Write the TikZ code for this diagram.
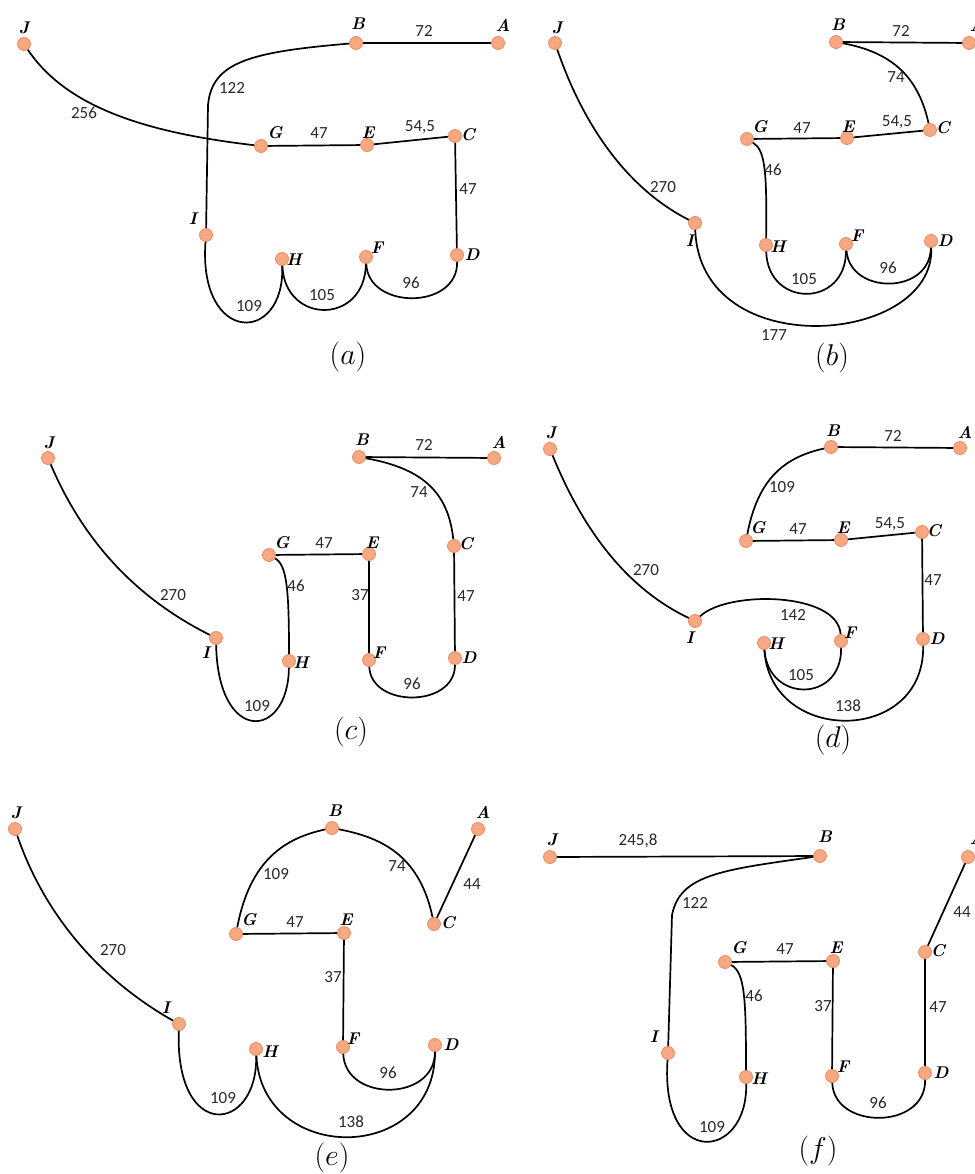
\RequirePackage{fix-cm}
\documentclass[tikz,border=0pt]{standalone}
\usepackage{fontspec}
\newfontfamily\numfont{Carlito}
\definecolor{nfill}{RGB}{245,168,130}
\definecolor{ndraw}{RGB}{238,140,95}
\definecolor{numc}{RGB}{40,40,40}
\begin{document}
\begin{tikzpicture}[x=1pt,y=-1pt,
  pt/.style={circle,fill=nfill,draw=ndraw,line width=0.8pt,minimum size=13pt,inner sep=0pt},
  lab/.style={font=\fontsize{17}{17}\selectfont\bfseries\itshape,inner sep=0pt},
  num/.style={font=\numfont\fontsize{17}{17}\selectfont,text=numc,inner sep=0pt},
  capt/.style={font=\fontsize{30}{30}\selectfont,inner sep=0pt},
  edge/.style={line width=1.7pt,black}]
\useasboundingbox (0,0) rectangle (974,1174);
% ================= (a)
\node[pt] (aJ) at (24,44) {}; \node[pt] (aB) at (356,43) {}; \node[pt] (aA) at (498,43) {};
\node[pt] (aG) at (261,146) {}; \node[pt] (aE) at (367,145) {}; \node[pt] (aC) at (455,136) {};
\node[pt] (aI) at (206,235) {}; \node[pt] (aH) at (282,259) {}; \node[pt] (aF) at (366,257) {};
\node[pt] (aD) at (457,255) {};
\node[lab] (aJl) at (24,28) {J}; \node[lab] (aBl) at (358,24) {B}; \node[lab] (aAl) at (503,25) {A};
\node[lab] (aGl) at (275,133) {G}; \node[lab] (aEl) at (368,133) {E}; \node[lab] (aCl) at (468,135) {C};
\node[lab] (aIl) at (193,219) {I}; \node[lab] (aHl) at (294,260) {H}; \node[lab] (aFl) at (377,248) {F};
\node[lab] (aDl) at (472,255) {D};
\draw[edge] (aB) -- (aA);
\draw[edge] (aB) .. controls (250,52) and (212,62) .. (208,105) -- (aI);
\draw[edge] (aJ) .. controls (65,105) and (140,132) .. (aG);
\draw[edge] (aG) -- (aE);
\draw[edge] (aE) -- (aC);
\draw[edge] (aC) -- (aD);
\draw[edge] (aI) .. controls (198,345) and (285,345) .. (aH);
\draw[edge] (aH) .. controls (285,325) and (365,325) .. (aF);
\draw[edge] (aF) .. controls (368,310) and (458,310) .. (aD);
\node[num] (aw1) at (424,31) {72}; \node[num] (aw2) at (232,88) {122}; \node[num] (aw3) at (84,113) {256};
\node[num] (aw4) at (319,133) {47}; \node[num] (aw5) at (420,127) {54,5}; \node[num] (aw6) at (468,189) {47};
\node[num] (aw7) at (249,306) {109}; \node[num] (aw8) at (322,295) {105}; \node[num] (aw9) at (411,283) {96};
\node[capt] (acap) at (348,357) {$(a)$};
% ================= (b)
\node[pt] (bJ) at (555,43) {}; \node[pt] (bB) at (836,42) {}; \node[pt] (bA) at (969,43) {};
\node[pt] (bG) at (747,139) {}; \node[pt] (bE) at (847,138) {}; \node[pt] (bC) at (930,130) {};
\node[pt] (bI) at (695,223) {}; \node[pt] (bH) at (766,245) {}; \node[pt] (bF) at (846,244) {};
\node[pt] (bD) at (931,241) {};
\node[lab] (bJl) at (557,28) {J}; \node[lab] (bBl) at (838,25) {B}; \node[lab] (bAl) at (977,25) {A};
\node[lab] (bGl) at (760,127) {G}; \node[lab] (bEl) at (848,127) {E}; \node[lab] (bCl) at (943,128) {C};
\node[lab] (bIl) at (690,241) {I}; \node[lab] (bHl) at (778,247) {H}; \node[lab] (bFl) at (857,236) {F};
\node[lab] (bDl) at (945,241) {D};
\draw[edge] (bB) -- (bA);
\draw[edge] (bB) .. controls (890,52) and (918,75) .. (bC);
\draw[edge] (bG) -- (bE);
\draw[edge] (bE) -- (bC);
\draw[edge] (bG) .. controls (765,150) and (767,170) .. (bH);
\draw[edge] (bJ) .. controls (585,130) and (630,190) .. (bI);
\draw[edge] (bI) .. controls (700,365) and (935,345) .. (bD);
\draw[edge] (bH) .. controls (768,308) and (846,308) .. (bF);
\draw[edge] (bF) .. controls (850,295) and (930,295) .. (bD);
\node[num] (bw1) at (901,31) {72}; \node[num] (bw2) at (896,77) {74}; \node[num] (bw3) at (802,128) {47};
\node[num] (bw4) at (897,122) {54,5}; \node[num] (bw5) at (773,170) {46}; \node[num] (bw6) at (663,187) {270};
\node[num] (bw7) at (774,335) {177}; \node[num] (bw8) at (804,279) {105}; \node[num] (bw9) at (888,268) {96};
\node[capt] (bcap) at (832,358) {$(b)$};
% ================= (c)
\node[pt] (cJ) at (48,458) {}; \node[pt] (cB) at (359,457) {}; \node[pt] (cA) at (494,458) {};
\node[pt] (cG) at (269,555) {}; \node[pt] (cE) at (369,554) {}; \node[pt] (cC) at (454,546) {};
\node[pt] (cI) at (216,638) {}; \node[pt] (cH) at (289,661) {}; \node[pt] (cF) at (369,660) {};
\node[pt] (cD) at (455,658) {};
\node[lab] (cJl) at (49,443) {J}; \node[lab] (cBl) at (362,440) {B}; \node[lab] (cAl) at (499,442) {A};
\node[lab] (cGl) at (282,543) {G}; \node[lab] (cEl) at (372,543) {E}; \node[lab] (cCl) at (466,544) {C};
\node[lab] (cIl) at (206,653) {I}; \node[lab] (cHl) at (301,663) {H}; \node[lab] (cFl) at (379,653) {F};
\node[lab] (cDl) at (469,658) {D};
\draw[edge] (cB) -- (cA);
\draw[edge] (cB) .. controls (420,468) and (448,490) .. (cC);
\draw[edge] (cG) -- (cE);
\draw[edge] (cE) -- (cF);
\draw[edge] (cC) -- (cD);
\draw[edge] (cG) .. controls (287,565) and (289,590) .. (cH);
\draw[edge] (cJ) .. controls (85,545) and (140,600) .. (cI);
\draw[edge] (cI) .. controls (218,745) and (288,740) .. (cH);
\draw[edge] (cF) .. controls (371,708) and (455,708) .. (cD);
\node[num] (cw1) at (424,445) {72}; \node[num] (cw2) at (419,492) {74}; \node[num] (cw3) at (324,543) {47};
\node[num] (cw4) at (360,595) {37}; \node[num] (cw5) at (466,596) {47}; \node[num] (cw6) at (296,586) {46};
\node[num] (cw7) at (173,595) {270}; \node[num] (cw8) at (257,706) {109}; \node[num] (cw9) at (412,684) {96};
\node[capt] (ccap) at (351,732) {$(c)$};
% ================= (d)
\node[pt] (dJ) at (550,449) {}; \node[pt] (dB) at (831,447) {}; \node[pt] (dA) at (960,448) {};
\node[pt] (dG) at (746,541) {}; \node[pt] (dE) at (841,540) {}; \node[pt] (dC) at (922,532) {};
\node[pt] (dI) at (695,621) {}; \node[pt] (dH) at (764,643) {}; \node[pt] (dF) at (841,641) {};
\node[pt] (dD) at (923,639) {};
\node[lab] (dJl) at (551,433) {J}; \node[lab] (dBl) at (833,431) {B}; \node[lab] (dAl) at (965,432) {A};
\node[lab] (dGl) at (758,528) {G}; \node[lab] (dEl) at (843,528) {E}; \node[lab] (dCl) at (934,531) {C};
\node[lab] (dIl) at (690,638) {I}; \node[lab] (dHl) at (776,644) {H}; \node[lab] (dFl) at (850,633) {F};
\node[lab] (dDl) at (937,639) {D};
\draw[edge] (dB) -- (dA);
\draw[edge] (dB) .. controls (785,457) and (758,478) .. (dG);
\draw[edge] (dG) -- (dE);
\draw[edge] (dE) -- (dC);
\draw[edge] (dC) -- (dD);
\draw[edge] (dJ) .. controls (585,535) and (630,590) .. (dI);
\draw[edge] (dI) .. controls (728,590) and (838,592) .. (dF);
\draw[edge] (dH) .. controls (768,703) and (842,703) .. (dF);
\draw[edge] (dH) .. controls (770,745) and (925,745) .. (dD);
\node[num] (dw1) at (893,436) {72}; \node[num] (dw2) at (782,487) {109}; \node[num] (dw3) at (798,529) {47};
\node[num] (dw4) at (890,524) {54,5}; \node[num] (dw5) at (933,580) {47}; \node[num] (dw6) at (646,570) {270};
\node[num] (dw7) at (793,615) {142}; \node[num] (dw8) at (801,675) {105}; \node[num] (dw9) at (848,706) {138};
\node[capt] (dcap) at (833,740) {$(d)$};
% ================= (e)
\node[pt] (eJ) at (15,829) {}; \node[pt] (eB) at (332,828) {}; \node[pt] (eA) at (478,829) {};
\node[pt] (eG) at (236,934) {}; \node[pt] (eE) at (344,933) {}; \node[pt] (eC) at (434,924) {};
\node[pt] (eI) at (179,1024) {}; \node[pt] (eH) at (256,1049) {}; \node[pt] (eF) at (343,1047) {};
\node[pt] (eD) at (435,1045) {};
\node[lab] (eJl) at (16,813) {J}; \node[lab] (eBl) at (335,811) {B}; \node[lab] (eAl) at (483,812) {A};
\node[lab] (eGl) at (249,920) {G}; \node[lab] (eEl) at (346,920) {E}; \node[lab] (eCl) at (448,923) {C};
\node[lab] (eIl) at (166,1008) {I}; \node[lab] (eHl) at (270,1052) {H}; \node[lab] (eFl) at (353,1039) {F};
\node[lab] (eDl) at (451,1045) {D};
\draw[edge] (eB) .. controls (285,838) and (250,860) .. (eG);
\draw[edge] (eB) .. controls (385,838) and (420,858) .. (eC);
\draw[edge] (eA) -- (eC);
\draw[edge] (eG) -- (eE);
\draw[edge] (eE) -- (eF);
\draw[edge] (eJ) .. controls (48,925) and (110,985) .. (eI);
\draw[edge] (eI) .. controls (175,1143) and (258,1133) .. (eH);
\draw[edge] (eH) .. controls (262,1165) and (435,1165) .. (eD);
\draw[edge] (eF) .. controls (345,1102) and (435,1102) .. (eD);
\node[num] (ew1) at (276,874) {109}; \node[num] (ew2) at (397,866) {74}; \node[num] (ew3) at (472,884) {44};
\node[num] (ew4) at (295,922) {47}; \node[num] (ew5) at (333,977) {37}; \node[num] (ew6) at (113,950) {270};
\node[num] (ew7) at (223,1098) {109}; \node[num] (ew8) at (351,1122) {138}; \node[num] (ew9) at (388,1073) {96};
\node[capt] (ecap) at (332,1158) {$(e)$};
% ================= (f)
\node[pt] (fJ) at (550,857) {}; \node[pt] (fB) at (820,856) {}; \node[pt] (fA) at (968,857) {};
\node[pt] (fG) at (725,962) {}; \node[pt] (fE) at (833,961) {}; \node[pt] (fC) at (925,952) {};
\node[pt] (fI) at (668,1053) {}; \node[pt] (fH) at (746,1077) {}; \node[pt] (fF) at (832,1076) {};
\node[pt] (fD) at (925,1073) {};
\node[lab] (fJl) at (552,840) {J}; \node[lab] (fBl) at (825,837) {B}; \node[lab] (fAl) at (977,838) {A};
\node[lab] (fGl) at (739,948) {G}; \node[lab] (fEl) at (836,948) {E}; \node[lab] (fCl) at (938,951) {C};
\node[lab] (fIl) at (654,1037) {I}; \node[lab] (fHl) at (759,1079) {H}; \node[lab] (fFl) at (843,1067) {F};
\node[lab] (fDl) at (941,1073) {D};
\draw[edge] (fJ) -- (fB);
\draw[edge] (fB) .. controls (720,870) and (680,875) .. (672,915) -- (fI);
\draw[edge] (fA) -- (fC);
\draw[edge] (fG) -- (fE);
\draw[edge] (fE) -- (fF);
\draw[edge] (fC) -- (fD);
\draw[edge] (fG) .. controls (745,972) and (746,1000) .. (fH);
\draw[edge] (fI) .. controls (660,1170) and (748,1160) .. (fH);
\draw[edge] (fF) .. controls (834,1130) and (926,1130) .. (fD);
\node[num] (fw1) at (638,841) {245,8}; \node[num] (fw2) at (695,903) {122}; \node[num] (fw3) at (962,912) {44};
\node[num] (fw4) at (785,949) {47}; \node[num] (fw5) at (754,996) {46}; \node[num] (fw6) at (823,1006) {37};
\node[num] (fw7) at (938,1007) {47}; \node[num] (fw8) at (712,1127) {109}; \node[num] (fw9) at (878,1103) {96};
\node[capt] (fcap) at (818,1151) {$(f)$};
\end{tikzpicture}
\end{document}
